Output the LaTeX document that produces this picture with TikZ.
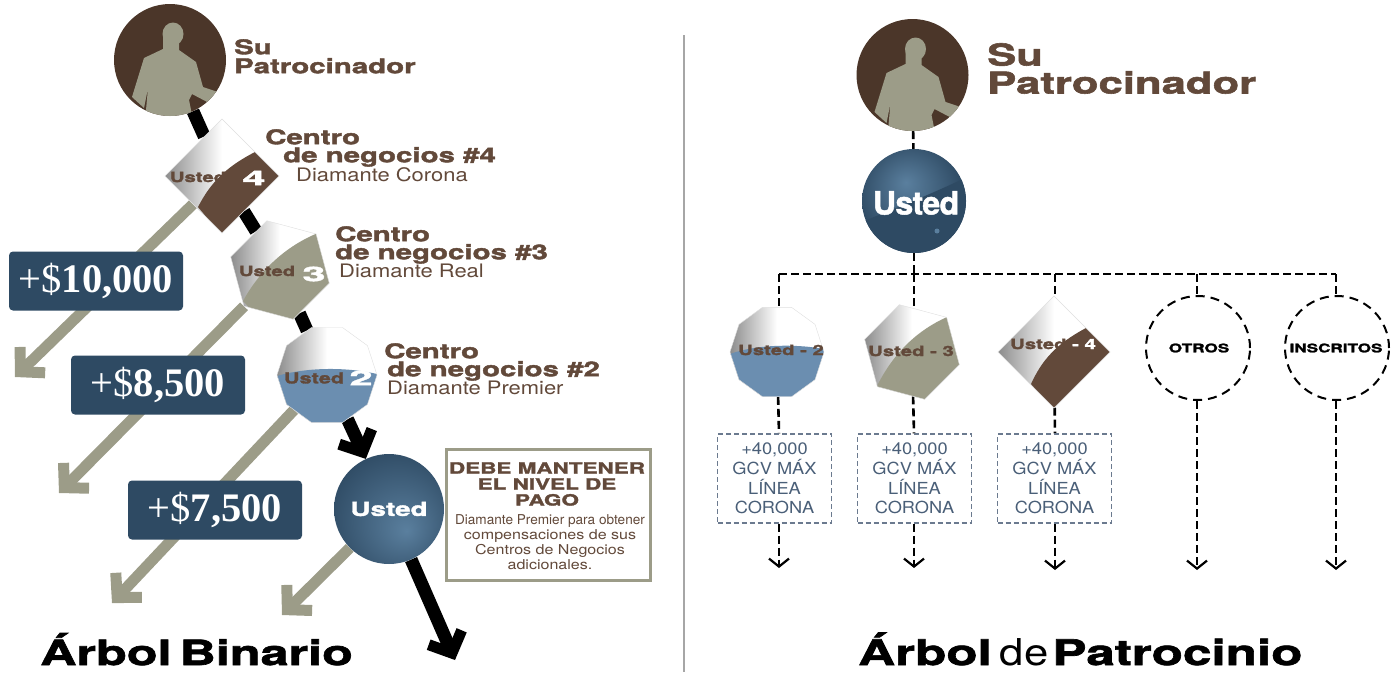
\documentclass[tikz,border=0pt]{standalone}
\usepackage{fontspec}
\usepackage{xcolor}
\usetikzlibrary{arrows.meta, positioning, shapes.geometric, backgrounds}

\newfontfamily\heavyfont[FakeStretch=1.45,FakeBold=1.9]{TeX Gyre Heros Bold}
\newfontfamily\numfont[FakeStretch=2.1,FakeBold=1.9]{TeX Gyre Heros Bold}
\newfontfamily\ballfont[FakeBold=1.5,LetterSpace=-2]{TeX Gyre Heros Bold}
\newfontfamily\lightfont[FakeStretch=1.18]{TeX Gyre Heros}
\newfontfamily\notefont[FakeStretch=1.0]{TeX Gyre Heros}
\newfontfamily\gcvfont[FakeStretch=1.1]{TeX Gyre Heros}
\setmainfont{Liberation Serif}

\definecolor{darkbrown}{HTML}{4B3629}
\definecolor{midbrown}{HTML}{62493A}
\definecolor{sage}{HTML}{9C9C88}
\definecolor{navy}{HTML}{2E4A63}
\definecolor{steel}{HTML}{6B8EB0}
\definecolor{ballmid}{HTML}{5A7F9E}
\definecolor{boxline}{HTML}{6B7A8F}
\definecolor{boxtext}{HTML}{4A5F78}
\definecolor{gemgray}{HTML}{8C8C8C}

\pgfdeclarehorizontalshading{gemshade}{100bp}{color(0bp)=(gemgray); color(25bp)=(gemgray); color(50bp)=(white); color(100bp)=(white)}
\pgfdeclareradialshading{ballleft}{\pgfpoint{8bp}{-10bp}}{color(0bp)=(ballmid); color(32bp)=(navy); color(50bp)=(navy)}
\pgfdeclareradialshading{ballright}{\pgfpoint{-4bp}{9bp}}{color(0bp)=(ballmid); color(26bp)=(navy); color(50bp)=(navy)}

\newcommand{\manhead}{(3,-26) ellipse [x radius=10.5, y radius=11.5]}
\newcommand{\manbody}{(-7,-24) -- (-7,-11) -- (-26,-2) -- (-38,37) -- (-26,48) -- (-22,28) -- (-24,50) -- (-24,60)
  -- (23,60) -- (19,40) -- (22,34) -- (41,44) -- (48,32) -- (33,27) -- (26,2) -- (9,-10) -- (9,-24) -- cycle}
\newcommand{\rankname}[1]{{\lightfont\fontsize{18.6}{18}\selectfont #1}}

\begin{document}
\begin{tikzpicture}[x=1pt,y=-1pt,on grid]
    \tikzstyle{sponsor}=[shape=circle,fill=darkbrown,inner sep=0pt,minimum size=112pt,
      path picture={\fill[sage,shift={(path picture bounding box.center)}] \manhead;
        \fill[sage,shift={(path picture bounding box.center)}] \manbody;}]
    \tikzstyle{gem}=[regular polygon,regular polygon sides=#1,inner sep=0pt,draw=gray!25,line width=0.4pt,shading=gemshade]
    \tikzstyle{gempart}=[path picture={\fill[#1,shift={(path picture bounding box.center)}] \gemcurve;}]
    \tikzstyle{prize}=[shape=rectangle,fill=navy,rounded corners=4pt,minimum width=174pt,minimum height=59pt,text=white,font=\fontsize{40.5}{40.5}\selectfont]
    \tikzstyle{title}=[anchor=north west,align=left,text=midbrown,inner sep=0pt]
    \tikzstyle{gemtext}=[font=\heavyfont\fontsize{14}{14}\selectfont,text=midbrown,inner sep=0pt]
    \tikzstyle{gemnum}=[font=\numfont\fontsize{20}{20}\selectfont,text=white,inner sep=0pt]
    \tikzstyle{gcv}=[shape=rectangle,draw=boxline,dashed,line width=1.4pt,dash pattern=on 5pt off 3pt,minimum width=114pt,minimum height=89pt,
      align=center,text=boxtext,font=\gcvfont\fontsize{16.6}{19.6}\selectfont,inner sep=0pt]
    \tikzstyle{ring}=[shape=circle,draw,line width=2pt,dash pattern=on 9pt off 6pt,minimum size=104pt,inner sep=0pt]
    \tikzstyle{ringtext}=[fill=white,inner sep=1pt,font=\heavyfont\fontsize{11.8}{11.8}\selectfont]
    \tikzstyle{blackline}=[draw=black,line width=13pt]
    \tikzstyle{sageline}=[draw=sage,line width=11pt]
    \tikzstyle{blacktip}=[-{Straight Barb[length=17pt,width=36pt,line width=11pt]}]
    \tikzstyle{sagetip}=[-{Straight Barb[length=17pt,width=36pt,line width=11pt]}]
    \tikzstyle{dashline}=[draw=black,line width=2.6pt,dash pattern=on 8pt off 4pt]
    \tikzstyle{dashtip}=[-{Straight Barb[length=8pt,width=20pt,line width=2.2pt]}]

    \useasboundingbox (0,0) rectangle (1397,672);

    % binary tree
    \node[sponsor] (S1) at (170,60) {};

    \def\gemcurve{(33,-24) .. controls (2,-8) and (-12,8) .. (-24,31) -- (0,60) -- (60,0) -- cycle}
    \node[gem=4,shape border rotate=45,minimum size=114pt,gempart=midbrown,below right=116pt and 52pt of S1] (G4) {};
    \def\gemcurve{(38,-37) .. controls (6,-24) and (-20,0) .. (-37,31) -- (-10,60) -- (60,30) -- cycle}
    \node[gem=6,shape border rotate=-15,minimum size=102pt,gempart=sage,below right=94pt and 58pt of G4] (G3) {};
    \def\gemcurve{(-50,1) .. controls (-20,-8) and (20,-8) .. (50,-1) -- (60,60) -- (-60,60) -- cycle}
    \node[gem=10,minimum size=100pt,gempart=steel,below right=105pt and 47pt of G3] (G2) {};
    \node[shape=circle,shading=ballleft,minimum size=110pt,inner sep=0pt,below right=134pt and 62pt of G2] (U1) {};

    \coordinate[below right=151pt and 66pt of U1] (E1);
    \coordinate (E2) at (15,377);
    \coordinate (E3) at (59,493);
    \coordinate (E4) at (112,603);
    \coordinate (E5) at (282,615);

    \node[gemtext] (G4t) at (198,177) {Usted};
    \node[gemnum] (G4n) at (254,178) {4};
    \node[gemtext] (G3t) at (267,271) {Usted};
    \node[gemnum] (G3n) at (314,274) {3};
    \node[gemtext,font=\heavyfont\fontsize{15}{15}\selectfont] (G2t) at (314,378) {Usted};
    \node[gemnum] (G2n) at (361,378) {2};
    \node[text=white,inner sep=0pt,font=\heavyfont\fontsize{19.2}{19.2}\selectfont] (U1t) at (389,509) {Usted};

    \node[prize] (P1) at (96,281) {+\$\textbf{10,000}};
    \node[prize] (P2) at (158,385) {+\$\textbf{8,500}};
    \node[prize] (P3) at (215,510) {+\$\textbf{7,500}};

    \node[title,font=\heavyfont\fontsize{20.3}{19}\selectfont] (T1) at (234,39) {Su\\Patrocinador};
    \node[title,font=\heavyfont\fontsize{20.3}{18}\selectfont] (T4) at (265,129) {Centro\\\hspace*{18pt}de negocios \#4\\\hspace*{31pt}\rankname{Diamante Corona}};
    \node[title,font=\heavyfont\fontsize{20.3}{18}\selectfont] (T3) at (335,226) {Centro\\de negocios \#3\\\hspace*{4pt}\rankname{Diamante Real}};
    \node[title,font=\heavyfont\fontsize{20.3}{18}\selectfont] (T2) at (384,343) {Centro\\\hspace*{3pt}de negocios \#2\\\hspace*{3pt}\rankname{Diamante Premier}};

    \node[shape=rectangle,draw=sage,line width=3pt,minimum width=204pt,minimum height=131pt,inner sep=0pt] (N1) at (548,514.5) {};
    \node[text=midbrown,align=center,inner sep=0pt,font=\heavyfont\fontsize{15.5}{16}\selectfont] (N1a) at (547,484) {DEBE MANTENER\\EL NIVEL DE\\PAGO};
    \node[text=midbrown,align=center,inner sep=0pt,font=\lightfont\fontsize{13.6}{15.2}\selectfont] (N1b) at (550,542) {{\notefont Diamante Premier para obtener}\\compensaciones de sus\\Centros de Negocios\\adicionales.};

    \node[inner sep=0pt,anchor=base west,font=\heavyfont\fontsize{34.7}{35}\selectfont] (B1) at (40,665) {Árbol\hspace*{8pt}Binario};

    % sponsor tree
    \node[sponsor] (S2) at (912.5,75) {};
    \node[title,font=\heavyfont\fontsize{30.1}{28}\selectfont] (T5) at (987,43) {Su\\Patrocinador};
    \def\gemcurve{(-55,22) .. controls (-20,8) and (20,-8) .. (55,-25) -- (60,60) -- (-60,60) -- cycle}
    \node[shape=circle,shading=ballright,minimum size=104pt,inner sep=0pt,
      path picture={\fill[navy,shift={(path picture bounding box.center)}] \gemcurve;
        \fill[ballmid,shift={(path picture bounding box.center)}] (23,30) circle (2.5);},below right=126pt and 1.5pt of S2] (U2) {};
    \node[white,inner sep=0pt,font=\ballfont\fontsize{32}{32}\selectfont] (U2t) at (916,203) {Usted};

    \def\gemcurve{(-47,2) .. controls (-20,-8) and (20,-8) .. (47,-3) -- (60,60) -- (-60,60) -- cycle}
    \node[gem=10,minimum size=94pt,gempart=steel] (H2) at (777,352) {};
    \def\gemcurve{(35,-35) .. controls (6,-22) and (-18,0) .. (-35,34) -- (-10,60) -- (60,30) -- cycle}
    \node[gem=6,shape border rotate=-15,minimum size=98pt,gempart=sage,right=135pt of H2] (H3) {};
    \def\gemcurve{(32,-24) .. controls (2,-8) and (-12,8) .. (-23,32) -- (0,60) -- (60,0) -- cycle}
    \node[gem=4,shape border rotate=45,minimum size=112pt,gempart=midbrown,right=142pt of H3] (H4) {};
    \node[ring] (O1) at (1198,348) {};
    \node[ring,right=139pt of O1] (I1) {};

    \node[gemtext] (H2t) at (781,350) {Usted - 2};
    \node[gemtext] (H3t) at (911,351) {Usted - 3};
    \node[gemtext] (H4t) at (1053,344) {Usted {\color{white}- 4}};
    \node[ringtext] (O1t) at (1199,348) {OTROS};
    \node[ringtext] (I1t) at (1336,348) {INSCRITOS};

    \node[gcv] (C2) at (774.5,478.5) {+40,000\\GCV MÁX\\LÍNEA\\CORONA};
    \node[gcv,right=140pt of C2] (C3) {+40,000\\GCV MÁX\\LÍNEA\\CORONA};
    \node[gcv,right=140pt of C3] (C4) {+40,000\\GCV MÁX\\LÍNEA\\CORONA};

    \coordinate (J0) at (914,274);
    \coordinate (J2) at (779,274);
    \coordinate (J4) at (1055,274);
    \coordinate (J5) at (1197,274);
    \coordinate (J6) at (1336,274);
    \coordinate (D2) at (779,568);
    \coordinate (D3) at (914,568);
    \coordinate (D4) at (1055,570);
    \coordinate (D5) at (1197,570);
    \coordinate (D6) at (1336,570);

    \node[inner sep=0pt,anchor=base west,font=\heavyfont\fontsize{35.3}{35}\selectfont] (B2) at (858,665) {Árbol\hspace*{8pt}{\lightfont\fontsize{37}{33}\selectfont de}\hspace*{4pt}Patrocinio};

    \coordinate (V1) at (684,35);
    \coordinate (V2) at (684,672);

    \begin{scope}[on background layer]
    \draw[gray!70,line width=1.2pt] (V1) -- (V2);
    \path[blackline]
    (S1) edge (G4)
    (G4) edge (G3)
    (G3) edge (G2)
    (G2) edge[blacktip] (U1)
    (U1) edge[blacktip] (E1);
    \path[sageline]
    (G4) edge[sagetip] (E2)
    (G3) edge[sagetip] (E3)
    (G2) edge[sagetip] (E4)
    (U1) edge[sagetip] (E5);
    \path[dashline]
    (S2) edge (U2)
    (U2) edge (J0)
    (J2) edge (J6)
    (J2) edge (J2 |- H2.north)
    (J0) edge (J0 |- H3.north)
    (J4) edge (J4 |- H4.north)
    (J5) edge (J5 |- O1.north)
    (J6) edge (J6 |- I1.north)
    (H2) edge (J2 |- C2.north)
    (H3) edge (J0 |- C3.north)
    (H4) edge (J4 |- C4.north)
    (J2 |- C2.south) edge[dashtip] (D2)
    (J0 |- C3.south) edge[dashtip] (D3)
    (J4 |- C4.south) edge[dashtip] (D4)
    (J5 |- O1.south) edge[dashtip] (D5)
    (J6 |- I1.south) edge[dashtip] (D6);
    \end{scope}

  \end{tikzpicture}
\end{document}
